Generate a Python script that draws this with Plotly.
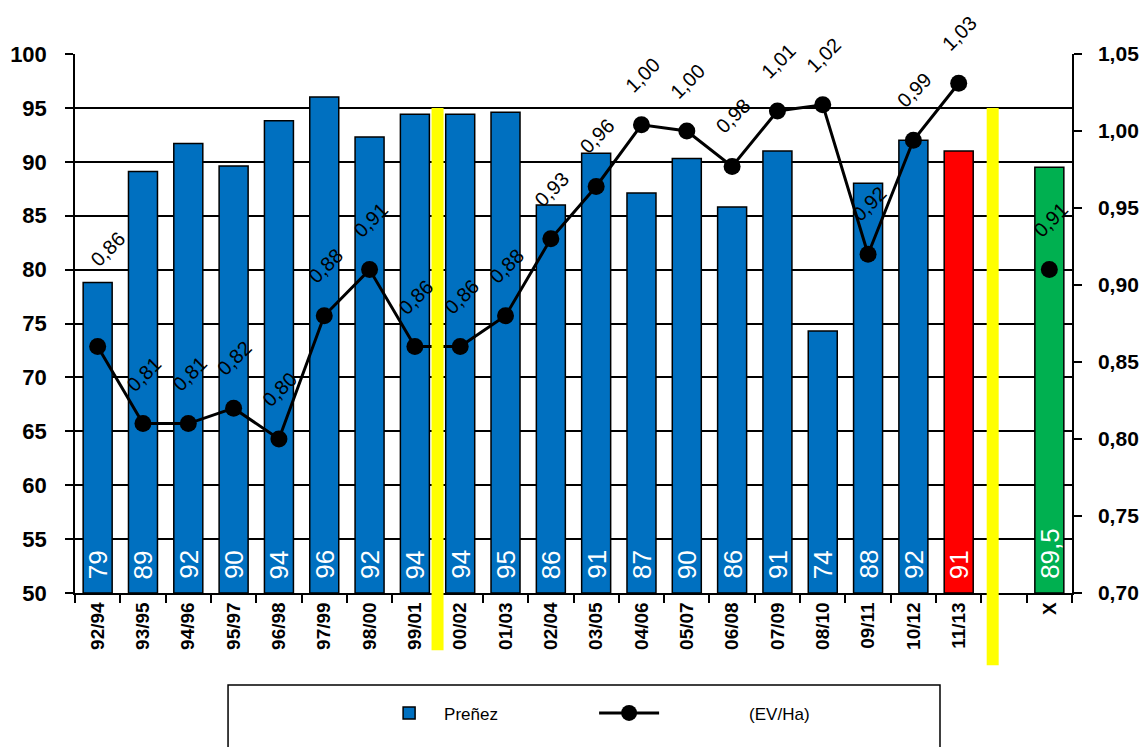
import plotly.graph_objects as go

# ---- data ----
seasons = ["92/94", "93/95", "94/96", "95/97", "96/98", "97/99", "98/00", "99/01",
           "00/02", "01/03", "02/04", "03/05", "04/06", "05/07", "06/08", "07/09",
           "08/10", "09/11", "10/12", "11/13", " ", "X"]
prenez = [78.8, 89.1, 91.7, 89.6, 93.8, 96.0, 92.3, 94.4, 94.4, 94.6, 86.0, 90.8,
          87.1, 90.3, 85.8, 91.0, 74.3, 88.0, 92.0, 91.0, None, 89.5]
prenez_labels = ["79", "89", "92", "90", "94", "96", "92", "94", "94", "95", "86", "91",
                 "87", "90", "86", "91", "74", "88", "92", "91", "", "89,5"]
ev_ha = [0.86, 0.81, 0.81, 0.82, 0.80, 0.88, 0.91, 0.86, 0.86, 0.88, 0.93, 0.964,
         1.004, 1.00, 0.977, 1.013, 1.017, 0.92, 0.994, 1.031, None, 0.91]
ev_labels = ["0,86", "0,81", "0,81", "0,82", "0,80", "0,88", "0,91", "0,86", "0,86", "0,88",
             "0,93", "0,96", "1,00", "1,00", "0,98", "1,01", "1,02", "0,92", "0,99", "1,03",
             "", "0,91"]
left_ticks = [50, 55, 60, 65, 70, 75, 80, 85, 90, 95, 100]
right_ticks = [0.70, 0.75, 0.80, 0.85, 0.90, 0.95, 1.00, 1.05]
separators_x = [7.5, 19.75]

Y_MIN, Y_MAX = 50, 100

BLUE = "#0070C0"
RED = "#FF0000"
GREEN = "#00B050"
colors = [BLUE] * 19 + [RED, BLUE, GREEN]

FONT = "Liberation Sans, Arial, sans-serif"
NBSP = "\u00a0"

fig = go.Figure()
fig.add_trace(go.Bar(
    x=seasons,
    y=[None if v is None else v - Y_MIN for v in prenez],
    base=Y_MIN,
    name="Preñez",
    marker=dict(color=colors, line=dict(color="black", width=1.5)),
))
fig.add_trace(go.Scatter(
    x=seasons, y=ev_ha, name=NBSP * 18 + "(EV/Ha)", yaxis="y2",
    mode="lines+markers", connectgaps=False,
    line=dict(color="black", width=3),
    marker=dict(color="black", size=17),
))

annotations = []
# bar value labels (white, rotated, at the bar base)
for s, v, t in zip(seasons, prenez, prenez_labels):
    if v is None:
        continue
    annotations.append(dict(
        x=s, y=Y_MIN, xref="x", yref="y", text=t, showarrow=False,
        textangle=-90, yanchor="bottom", xanchor="center", yshift=12,
        font=dict(family=FONT, size=26, color="white"),
    ))
# line value labels
for i, (s, v, t) in enumerate(zip(seasons, ev_ha, ev_labels)):
    if v is None:
        continue
    annotations.append(dict(
        x=s, y=v, xref="x", yref="y2", text=t, showarrow=False,
        textangle=-45, yshift=98 if i == 0 else 50, xshift=10 if i == 0 else 1,
        font=dict(family=FONT, size=20, color="black"),
    ))

shapes = []
bottoms = [-0.106, -0.134]
for xs, yb in zip(separators_x, bottoms):
    shapes.append(dict(type="line", xref="x", yref="paper", x0=xs, x1=xs,
                       y0=yb, y1=0.9, line=dict(color="#FFFF00", width=12),
                       layer="above"))
# legend frame
shapes.append(dict(type="rect", xref="paper", yref="paper", x0=0.1535, x1=0.8676,
                   y0=-0.32, y1=-0.1707, line=dict(color="black", width=1.5),
                   fillcolor="rgba(0,0,0,0)", layer="above"))

fig.update_layout(
    width=1144, height=747,
    margin=dict(l=75, r=72, t=54, b=154, autoexpand=False),
    paper_bgcolor="white", plot_bgcolor="white",
    separators=",.",
    font=dict(family=FONT, color="black"),
    bargap=0.36,
    showlegend=True,
    legend=dict(orientation="h", x=0.30, xanchor="left", y=-0.19, yanchor="top",
                borderwidth=0, font=dict(size=17, family=FONT),
                entrywidth=145, itemwidth=60, bgcolor="rgba(0,0,0,0)"),
    annotations=annotations,
    shapes=shapes,
    xaxis=dict(type="category", tickangle=-90, tickson="boundaries",
               ticks="outside", ticklen=8, tickcolor="black", tickwidth=1.5,
               showline=True, linecolor="black", linewidth=1.5, showgrid=False,
               tickfont=dict(size=19, family=FONT, weight="bold"),
               range=[-0.5, 21.5], automargin=False),
    yaxis=dict(range=[Y_MIN, Y_MAX], tickvals=left_ticks, showgrid=True, gridcolor="black",
               gridwidth=1.5, showline=True, linecolor="black", linewidth=1.5,
               ticks="outside", ticklen=8, tickcolor="black", tickwidth=1.5,
               ticklabelstandoff=14, automargin=False,
               tickfont=dict(size=22, family=FONT, weight="bold"), zeroline=False),
    yaxis2=dict(range=[0.70, 1.05], tickvals=right_ticks, tickformat=".2f",
                overlaying="y", side="right", showgrid=False, showline=True,
                linecolor="black", linewidth=1.5, ticks="outside", ticklen=8,
                tickcolor="black", tickwidth=1.5, zeroline=False,
                ticklabelstandoff=12, automargin=False,
                tickfont=dict(size=21, family=FONT, weight="bold")),
)

fig.write_html("out.html")
